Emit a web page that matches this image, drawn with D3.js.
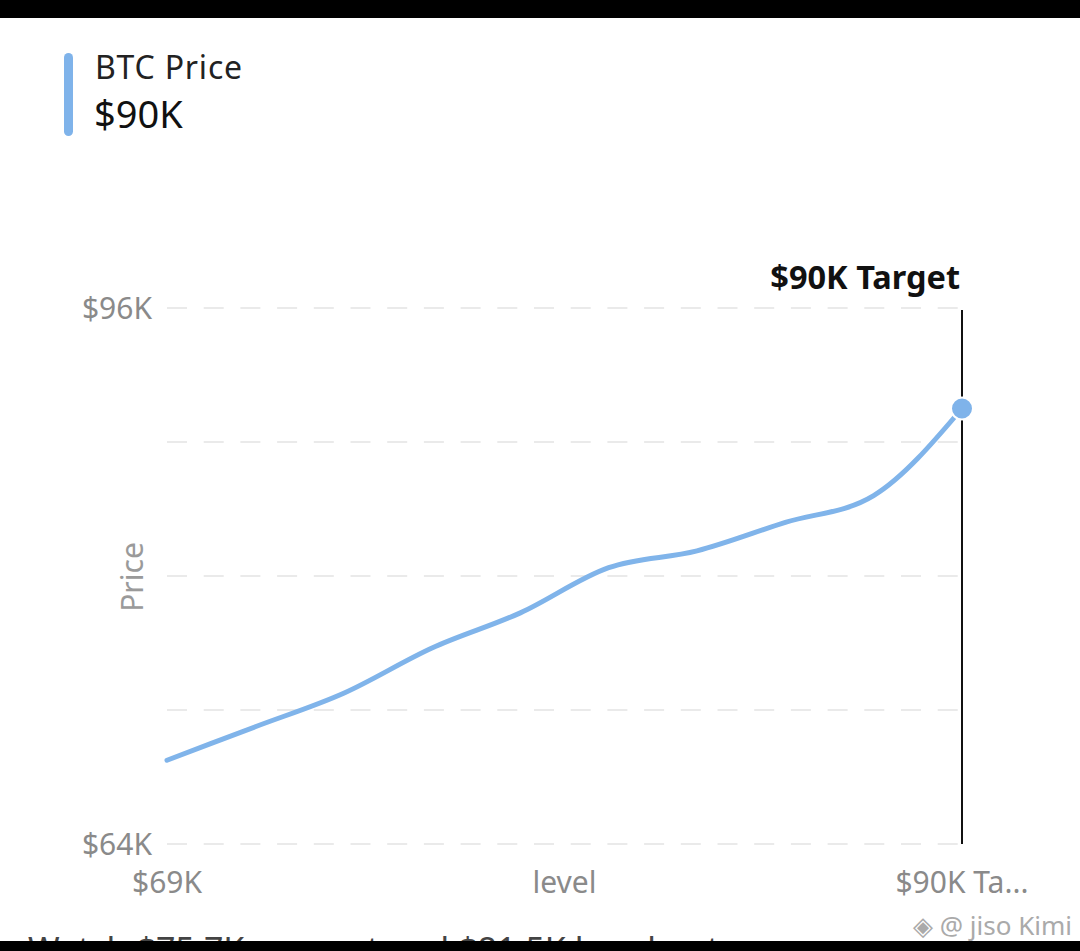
<!DOCTYPE html>
<html><head><meta charset="utf-8">
<script src="https://cdn.jsdelivr.net/npm/d3@7"></script>
<style>html,body{margin:0;padding:0;background:#fff;overflow:hidden}</style>
</head><body>
<svg id="c" width="1080" height="951"></svg>
<script>
const categories = ["$69K","p2","p3","$75.7K support","p5","p6","$81.5K breakout","p8","p9","$90K Target"];
const prices = [69.0, 71.0, 73.0, 75.7, 77.8, 80.5, 81.5, 83.2, 84.8, 90.0];
const gridValues = [64, 72, 80, 88, 96];
const yTickLabels = [{v:96,t:"$96K"},{v:64,t:"$64K"}];
const xTickLabels = [{i:0,t:"$69K"},{i:4.5,t:"level"},{i:9,t:"$90K Ta..."}];
const seriesName = "BTC Price";
const currentLabel = "$90K";
const targetLabel = "$90K Target";
const footnote = "Watch $75.7K support and $81.5K breakout";

const svg = d3.select("#c");
const font = "'Noto Sans', 'Open Sans', sans-serif";
const x = d3.scaleLinear().domain([0, categories.length-1]).range([167, 962]);
const y = d3.scaleLinear().domain([64, 96]).range([844, 308]);

// legend
svg.append("rect").attr("x",64).attr("y",53).attr("width",9).attr("height",83).attr("rx",4.5).attr("fill","#7fb3ea");
svg.append("text").attr("x",95).attr("y",79).attr("font-family",font).attr("font-size",32).attr("fill","#222").attr("letter-spacing",0.8).text(seriesName);
svg.append("text").attr("x",94).attr("y",128).attr("font-family",font).attr("font-size",38).attr("fill","#111").text(currentLabel);

// grid
svg.append("g").selectAll("line").data(gridValues).join("line")
  .attr("x1",x(0)).attr("x2",x(9)).attr("y1",d=>y(d)).attr("y2",d=>y(d))
  .attr("stroke","#e3e3e3").attr("stroke-width",1.5).attr("stroke-dasharray","20 16.7");

// y labels
svg.append("g").selectAll("text").data(yTickLabels).join("text")
  .attr("x",152).attr("y",d=>y(d.v)+11).attr("text-anchor","end")
  .attr("font-family",font).attr("font-size",30).attr("fill","#8a8a8a").text(d=>d.t);
svg.append("text").attr("transform","translate(143,577) rotate(-90)").attr("text-anchor","middle")
  .attr("font-family",font).attr("font-size",30).attr("fill","#9a9a9a").text("Price");

// x labels
svg.append("g").selectAll("text").data(xTickLabels).join("text")
  .attr("x",d=>x(d.i)).attr("y",893).attr("text-anchor","middle")
  .attr("font-family",font).attr("font-size",30).attr("fill","#8a8a8a").text(d=>d.t);

// target line
svg.append("line").attr("x1",x(9)).attr("x2",x(9)).attr("y1",310).attr("y2",y(64))
  .attr("stroke","#111").attr("stroke-width",2);
svg.append("text").attr("x",960).attr("y",289).attr("text-anchor","end")
  .attr("font-family",font).attr("font-weight","bold").attr("font-size",32.5).attr("fill","#111").text(targetLabel);

// line
const line = d3.line().x((d,i)=>x(i)).y(d=>y(d)).curve(d3.curveMonotoneX);
svg.append("path").datum(prices).attr("d",line).attr("fill","none")
  .attr("stroke","#80b4ea").attr("stroke-width",5).attr("stroke-linecap","round");
svg.append("circle").attr("cx",x(9)).attr("cy",y(prices[9])).attr("r",11)
  .attr("fill","#7fb3ea").attr("stroke","#fff").attr("stroke-width",2);

// footnote (cut off by the bottom bar, as in the reference)
svg.append("text").attr("x",28).attr("y",962).attr("font-family",font).attr("font-size",34).attr("fill","#444").text(footnote);
// watermark
svg.append("text").attr("x",1072).attr("y",935).attr("text-anchor","end")
  .attr("font-family",font).attr("font-size",26).attr("fill","#aaa").text("◈ @ jiso Kimi");

// black bars
svg.append("rect").attr("x",0).attr("y",0).attr("width",1080).attr("height",18).attr("fill","#000");
svg.append("rect").attr("x",0).attr("y",941).attr("width",1080).attr("height",10).attr("fill","#000");
</script>
</body></html>
